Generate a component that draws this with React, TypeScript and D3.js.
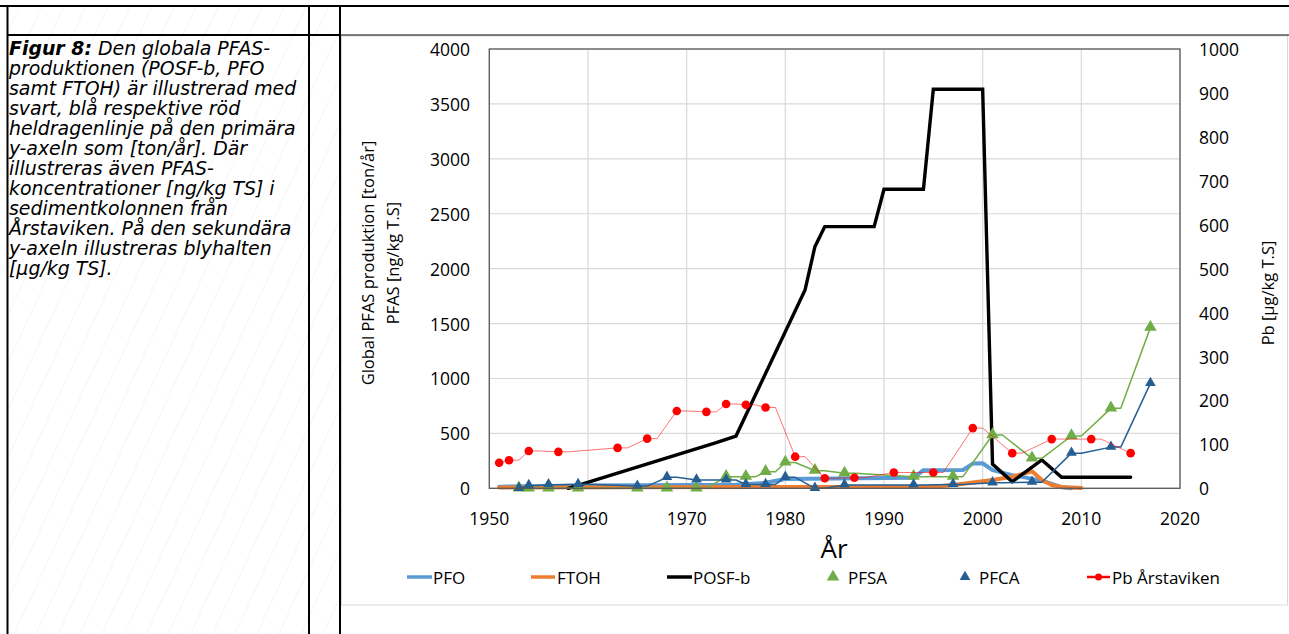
import React from "react";
import * as d3 from "d3";

// ---------- data ----------
const xTicks = [1950, 1960, 1970, 1980, 1990, 2000, 2010, 2020];
const yLeftTicks = [0, 500, 1000, 1500, 2000, 2500, 3000, 3500, 4000];
const yRightTicks = [0, 100, 200, 300, 400, 500, 600, 700, 800, 900, 1000];

const pfoYears = [1951, 1960, 1970, 1975, 1978, 1980, 1985, 1993, 1994, 1998, 1999, 2000, 2001, 2003, 2006, 2008, 2009];
const pfoValues = [15, 25, 30, 32, 50, 85, 90, 95, 165, 167, 225, 228, 165, 120, 70, 10, 0];

const ftohYears = [1951, 1995, 1997, 2001, 2003, 2005, 2006, 2007, 2008, 2010];
const ftohValues = [8, 15, 30, 75, 105, 155, 75, 30, 12, 3];

const posfYears = [1958, 1973, 1975, 1982, 1983, 1984, 1989, 1990, 1994, 1995, 2000, 2001, 2003, 2006, 2008, 2015];
const posfValues = [0, 415, 476, 1806, 2200, 2383, 2383, 2723, 2723, 3634, 3634, 220, 60, 258, 100, 100];

const pfsaYears = [1953, 1954, 1956, 1959, 1965, 1968, 1971, 1974, 1976, 1978, 1980, 1983, 1986, 1993, 1997, 2001, 2005, 2009, 2013, 2017];
const pfsaValues = [0, 0, 0, 0, 0, 0, 0, 106, 106, 150, 235, 160, 136, 106, 106, 485, 273, 476, 728, 1463];
const pfsaLineYears = [1953, 1954, 1955, 1956, 1957, 1959, 1960, 1965, 1966, 1968, 1969, 1971, 1972, 1974, 1975, 1976, 1977, 1978, 1979, 1980, 1981, 1983, 1984, 1986, 1987, 1993, 1994, 1997, 1998, 2001, 2002, 2005, 2006, 2009, 2010, 2013, 2014, 2017];
const pfsaLineValues = [0, 0, 0, 0, 0, 0, 0, 0, 0, 0, 0, 0, 0, 106, 106, 106, 106, 150, 150, 235, 235, 160, 160, 136, 136, 106, 106, 106, 106, 485, 485, 273, 273, 476, 476, 728, 728, 1463];

const pfcaYears = [1953, 1954, 1956, 1959, 1965, 1968, 1971, 1974, 1976, 1978, 1980, 1983, 1986, 1993, 1997, 2001, 2005, 2009, 2013, 2017];
const pfcaValues = [0, 25, 33, 36, 20, 100, 76, 76, 35, 35, 100, 0, 30, 30, 35, 50, 55, 320, 375, 955];
const pfcaLineYears = [1953, 1954, 1955, 1956, 1957, 1959, 1960, 1965, 1966, 1968, 1969, 1971, 1972, 1974, 1975, 1976, 1977, 1978, 1979, 1980, 1981, 1983, 1984, 1986, 1987, 1993, 1994, 1997, 1998, 2001, 2002, 2005, 2006, 2009, 2010, 2013, 2014, 2017];
const pfcaLineValues = [0, 25, 25, 33, 33, 36, 36, 20, 20, 100, 100, 76, 76, 76, 76, 35, 35, 35, 35, 100, 100, 0, 0, 30, 30, 30, 30, 35, 35, 50, 50, 55, 55, 320, 320, 375, 375, 955];

const pbYears = [1951, 1952, 1954, 1957, 1963, 1966, 1969, 1972, 1974, 1976, 1978, 1981, 1984, 1987, 1991, 1995, 1999, 2003, 2007, 2011, 2015];
const pbValues = [58, 64, 85, 83, 92, 113, 176, 174, 192, 190, 184, 72, 23, 24, 36, 36, 137, 80, 112, 112, 80];
const pbLineYears = [1951, 1952, 1953, 1954, 1955, 1957, 1958, 1963, 1964, 1966, 1967, 1969, 1970, 1972, 1973, 1974, 1975, 1976, 1977, 1978, 1979, 1981, 1982, 1984, 1985, 1987, 1988, 1991, 1992, 1995, 1996, 1999, 2000, 2003, 2004, 2007, 2008, 2011, 2012, 2015];
const pbLineValues = [58, 64, 64, 85, 85, 83, 83, 92, 92, 113, 113, 176, 176, 174, 174, 192, 192, 190, 190, 184, 184, 72, 72, 23, 23, 24, 24, 36, 36, 36, 36, 137, 137, 80, 80, 112, 112, 112, 112, 80];

const legendLabels = ["PFO", "FTOH", "POSF-b", "PFSA", "PFCA", "Pb Årstaviken"];

const captionLines = [
  " Den globala PFAS-",
  "produktionen (POSF-b, PFO",
  "samt FTOH) är illustrerad med",
  "svart, blå respektive röd",
  "heldragenlinje på den primära",
  "y-axeln som [ton/år].  Där",
  "illustreras även PFAS-",
  "koncentrationer [ng/kg TS] i",
  "sedimentkolonnen från",
  "Årstaviken. På den sekundära",
  "y-axeln illustreras blyhalten",
  "[µg/kg TS].",
];

// ---------- layout ----------
const W = 1289;
const H = 634;
const P = { left: 489.3, right: 1180, top: 49, bottom: 488.3 };
const FONT = "'Open Sans', 'Noto Sans', sans-serif";
const C = {
  pfo: "#5b9bd5",
  ftoh: "#ed7d31",
  posf: "#000000",
  pfsa: "#70ad47",
  pfca: "#255e91",
  pb: "#ff0000",
  grid: "#d9d9d9",
};

export default function App() {
  const x = d3.scaleLinear().domain([1950, 2020]).range([P.left, P.right]);
  const yL = d3.scaleLinear().domain([0, 4000]).range([P.bottom, P.top]);
  const yR = d3.scaleLinear().domain([0, 1000]).range([P.bottom, P.top]);
  const lineGen = d3.line<[number, number]>();
  const path = (xs: number[], vs: number[], y: d3.ScaleLinear<number, number>) =>
    lineGen(xs.map((t, i) => [x(t), y(vs[i])] as [number, number])) || "";
  const triBig = d3.symbol(d3.symbolTriangle, 68)() || "";
  const triSmall = d3.symbol(d3.symbolTriangle, 50)() || "";

  const legendY = 577;
  const legendItems = [
    { label: legendLabels[0], kind: "line", color: C.pfo, x0: 407, x1: 432, tx: 433, w: 3.5 },
    { label: legendLabels[1], kind: "line", color: C.ftoh, x0: 531, x1: 555, tx: 557, w: 3.5 },
    { label: legendLabels[2], kind: "line", color: C.posf, x0: 667, x1: 692, tx: 693, w: 3.5 },
    { label: legendLabels[3], kind: "tri", color: C.pfsa, x0: 833, x1: 833, tx: 848, w: 0 },
    { label: legendLabels[4], kind: "tri2", color: C.pfca, x0: 965, x1: 965, tx: 979, w: 0 },
    { label: legendLabels[5], kind: "linedot", color: C.pb, x0: 1087, x1: 1110, tx: 1112, w: 2.5 },
  ];

  return (
    <div style={{ position: "absolute", left: 0, top: 0, width: W, height: H, overflow: "hidden", background: "#fff" }}>
      <svg width={W} height={H} viewBox={`0 0 ${W} ${H}`} style={{ display: "block" }}>
        <defs>
          <pattern id="hatch" patternUnits="userSpaceOnUse" width={20} height={20} patternTransform="rotate(25)">
            <line x1={0} y1={0} x2={0} y2={20} stroke="#ebebeb" strokeWidth={1} />
          </pattern>
        </defs>
        <rect x={0} y={0} width={W} height={H} fill="#fff" />
        <rect x={8} y={7} width={332} height={H} fill="url(#hatch)" />

        {/* caption */}
        <g fontFamily="'DejaVu Sans', Verdana, sans-serif" fontStyle="italic" fontSize={18.9} fill="#000">
          {captionLines.map((t, i) => (
            <text key={i} x={9} y={54.5 + i * 20}>
              {i === 0 ? <tspan fontWeight="bold">Figur 8:</tspan> : null}
              {t}
            </text>
          ))}
        </g>

        {/* chart box */}
        <rect x={341.5} y={36} width={946} height={569} fill="#fff" stroke="#d9d9d9" strokeWidth={1} />

        {/* table borders */}
        <g stroke="#000">
          <line x1={0} x2={W} y1={6} y2={6} strokeWidth={2} />
          <line x1={7.5} x2={7.5} y1={5} y2={H} strokeWidth={2} />
          <line x1={309} x2={309} y1={5} y2={H} strokeWidth={2} />
          <line x1={340} x2={340} y1={5} y2={H} strokeWidth={2} />
          <line x1={7} x2={340} y1={35} y2={35} strokeWidth={2} />
          <line x1={340} x2={W} y1={35} y2={35} strokeWidth={1} />
        </g>

        {/* grid */}
        <g stroke={C.grid} strokeWidth={1.2}>
          {yLeftTicks.map((t) => (
            <line key={"h" + t} x1={P.left} x2={P.right} y1={yL(t)} y2={yL(t)} />
          ))}
          {xTicks.map((t) => (
            <line key={"v" + t} x1={x(t)} x2={x(t)} y1={P.top} y2={P.bottom} />
          ))}
        </g>

        {/* series */}
        <g fill="none" strokeLinejoin="round" strokeLinecap="round">
          <path d={path(pfoYears, pfoValues, yL)} stroke={C.pfo} strokeWidth={4} />
          <path d={path(ftohYears, ftohValues, yL)} stroke={C.ftoh} strokeWidth={4} />
          <path d={path(posfYears, posfValues, yL)} stroke={C.posf} strokeWidth={3.4} strokeLinejoin="miter" />
          <path d={path(pfsaLineYears, pfsaLineValues, yL)} stroke={C.pfsa} strokeWidth={1.5} />
        </g>
        <g fill={C.pfsa}>
          {pfsaYears.map((t, i) => (
            <path key={i} d={triBig} transform={`translate(${x(t)},${yL(pfsaValues[i]) - 0.5})`} />
          ))}
        </g>
        <path d={path(pfcaLineYears, pfcaLineValues, yL)} fill="none" stroke={C.pfca} strokeWidth={1.5} strokeLinejoin="round" />
        <g fill={C.pfca}>
          {pfcaYears.map((t, i) => (
            <path key={i} d={triSmall} transform={`translate(${x(t)},${yL(pfcaValues[i]) - 0.5})`} />
          ))}
        </g>
        <path d={path(pbLineYears, pbLineValues, yR)} fill="none" stroke={C.pb} strokeOpacity={0.55} strokeWidth={1} strokeLinejoin="round" />
        <g fill={C.pb}>
          {pbYears.map((t, i) => (
            <circle key={i} cx={x(t)} cy={yR(pbValues[i])} r={4.3} />
          ))}
        </g>

        {/* plot border */}
        <rect x={P.left} y={P.top} width={P.right - P.left} height={P.bottom - P.top} fill="none" stroke="#595959" strokeWidth={1.3} />

        {/* axes labels */}
        <g fontFamily={FONT} fontSize={17.5} fill="#000">
          {yLeftTicks.map((t) => (
            <text key={"l" + t} x={470} y={yL(t)} textAnchor="end" dominantBaseline="central">
              {t}
            </text>
          ))}
          {yRightTicks.map((t) => (
            <text key={"r" + t} x={1199} y={yR(t)} textAnchor="start" dominantBaseline="central">
              {t}
            </text>
          ))}
          {xTicks.map((t) => (
            <text key={"x" + t} x={x(t)} y={525} textAnchor="middle">
              {t}
            </text>
          ))}
          <text transform="translate(367,263) rotate(-90)" textAnchor="middle" dominantBaseline="central" fontSize={16.5}>
            Global PFAS produktion [ton/år]
          </text>
          <text transform="translate(392,263) rotate(-90)" textAnchor="middle" dominantBaseline="central" fontSize={16.5}>
            PFAS [ng/kg T.S]
          </text>
          <text transform="translate(1267,293) rotate(-90)" textAnchor="middle" dominantBaseline="central" fontSize={16.5}>
            Pb [µg/kg T.S]
          </text>
          <text x={834} y={558} textAnchor="middle" fontSize={26}>
            År
          </text>
        </g>

        {/* legend */}
        <g fontFamily={FONT} fontSize={17} fill="#000">
          {legendItems.map((it, i) => (
            <g key={i}>
              {it.kind === "line" || it.kind === "linedot" ? (
                <line x1={it.x0} x2={it.x1} y1={legendY} y2={legendY} stroke={it.color} strokeWidth={it.w} />
              ) : null}
              {it.kind === "linedot" ? <circle cx={(it.x0 + it.x1) / 2} cy={legendY} r={3.5} fill={it.color} /> : null}
              {it.kind === "tri" ? <path d={triBig} fill={it.color} transform={`translate(${it.x0},${legendY})`} /> : null}
              {it.kind === "tri2" ? <path d={triSmall} fill={it.color} transform={`translate(${it.x0},${legendY})`} /> : null}
              <text x={it.tx} y={legendY} dominantBaseline="central">
                {it.label}
              </text>
            </g>
          ))}
        </g>
      </svg>
    </div>
  );
}
